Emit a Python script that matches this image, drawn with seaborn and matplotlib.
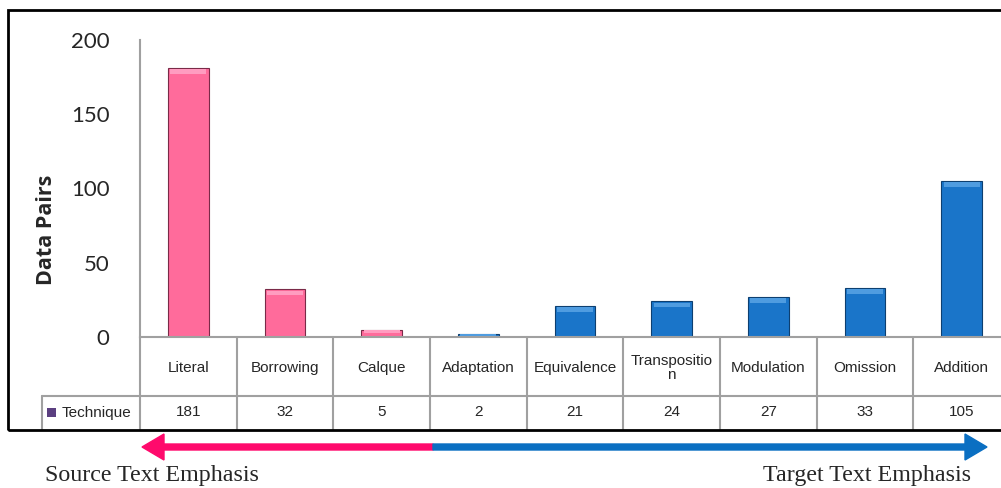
import numpy as np
import pandas as pd
import matplotlib
matplotlib.use('Agg')
import matplotlib.pyplot as plt
import seaborn as sns
from matplotlib.patches import Rectangle, FancyArrow
import matplotlib.transforms as mtransforms

techniques = ['Literal', 'Borrowing', 'Calque', 'Adaptation', 'Equivalence',
              'Transposition', 'Modulation', 'Omission', 'Addition']
table_labels = ['Literal', 'Borrowing', 'Calque', 'Adaptation', 'Equivalence',
                'Transpositio\nn', 'Modulation', 'Omission', 'Addition']
pairs = [181, 32, 5, 2, 21, 24, 27, 33, 105]
side = ['source', 'source', 'source', 'target', 'target',
        'target', 'target', 'target', 'target']
yticks = [0, 50, 100, 150, 200]

PINK = '#ff6b9b'
BLUE = '#1a75c9'

df = pd.DataFrame({'technique': techniques, 'pairs': pairs, 'side': side})

sns.set_style('white')
W, H = 1001, 488
fig = plt.figure(figsize=(W / 100, H / 100), dpi=100)

# axes in pixel layout: y=0 at 337px, y=200 at 40px, x from 140px, 96.7px per category
ax_l, ax_b, ax_w, ax_h = 140, 337, 870, 297
ax = fig.add_axes([ax_l / W, 1 - ax_b / H, ax_w / W, ax_h / H])

sns.barplot(data=df, x='technique', y='pairs', hue='side',
            palette={'source': PINK, 'target': BLUE}, dodge=False,
            width=0.42, saturation=1, legend=False, ax=ax)
for bar, s in zip(ax.patches, side):
    bar.set_edgecolor('#7a2a48' if s == 'source' else '#0d3f70')
    bar.set_linewidth(0.8)
    # light bevel along the top of each bar
    x0, w, h = bar.get_x(), bar.get_width(), bar.get_height()
    bevel = min(4.0, h * 0.5)
    ax.add_patch(Rectangle((x0 + w * 0.06, h - bevel), w * 0.88, bevel * 0.8,
                           facecolor='#ff9cc0' if s == 'source' else '#4f9ce0',
                           edgecolor='none', zorder=3))

ax.set_xlim(-0.5, 8.5)
ax.set_ylim(0, 200)
ax.set_yticks(yticks)
ax.set_yticklabels([str(v) for v in yticks], fontsize=16, family='Lato')
ax.tick_params(axis='y', length=0, pad=22)
ax.set_xticks([])
ax.set_xlabel('')
ax.set_ylabel('Data Pairs', fontsize=15.5, fontweight='bold', family='Open Sans')
ax.yaxis.set_label_coords(-0.095, 0.36)
for sp in ['top', 'right']:
    ax.spines[sp].set_visible(False)
for sp in ['left', 'bottom']:
    ax.spines[sp].set_color('#a0a0a0')
    ax.spines[sp].set_linewidth(1.5)

# data table under the chart
trans = mtransforms.blended_transform_factory(ax.transData, ax.transAxes)
row1 = -(396 - 337) / ax_h
row2 = -(429 - 337) / ax_h
grid = dict(color='#a0a0a0', lw=1.5, clip_on=False, transform=trans)
leg_x = -0.5 + (42 - 140) / 96.7
ax.plot([leg_x, 8.6], [row1, row1], **grid)
ax.plot([leg_x, leg_x], [row1, row2], **grid)
for i in range(10):
    ax.plot([i - 0.5, i - 0.5], [0, row2], **grid)
for i, (lab, v) in enumerate(zip(table_labels, pairs)):
    ax.text(i, row1 / 2 - 0.005, lab, ha='center', va='center', fontsize=11,
            family='Liberation Sans', linespacing=1.0, transform=trans)
    ax.text(i, (row1 + row2) / 2, str(v), ha='center', va='center',
            fontsize=11, family='Liberation Sans', transform=trans)
ax.add_patch(Rectangle((leg_x + 0.05, (row1 + row2) / 2 - 0.014), 0.09, 0.03,
                       facecolor='#5b3f80', edgecolor='none', clip_on=False,
                       transform=trans))
ax.text(leg_x + 0.2, (row1 + row2) / 2, 'Technique', ha='left', va='center',
        fontsize=11, family='Liberation Sans', transform=trans)

# outer chart frame
def fx(px):
    return px / W

def fy(py):
    return 1 - py / H

fig.add_artist(Rectangle((fx(8), fy(430)), fx(1010) - fx(8), fy(10) - fy(430),
                         transform=fig.transFigure, fill=False,
                         edgecolor='black', linewidth=2))

# emphasis arrows
ay = fy(447)
fig.add_artist(FancyArrow(fx(433), ay, fx(142) - fx(433), 0, width=6 / H,
                          head_width=26 / H, head_length=22 / W,
                          length_includes_head=True, color='#ff0a6c',
                          transform=fig.transFigure))
fig.add_artist(FancyArrow(fx(433), ay, fx(987) - fx(433), 0, width=6 / H,
                          head_width=26 / H, head_length=22 / W,
                          length_includes_head=True, color='#0a6fc2',
                          transform=fig.transFigure))
fig.text(fx(45), fy(476), 'Source Text Emphasis', ha='left', va='center',
         fontsize=17.3, family='Liberation Serif')
fig.text(fx(971), fy(476), 'Target Text Emphasis', ha='right', va='center',
         fontsize=17.3, family='Liberation Serif')

fig.savefig('out.png', dpi=100, facecolor='white')
